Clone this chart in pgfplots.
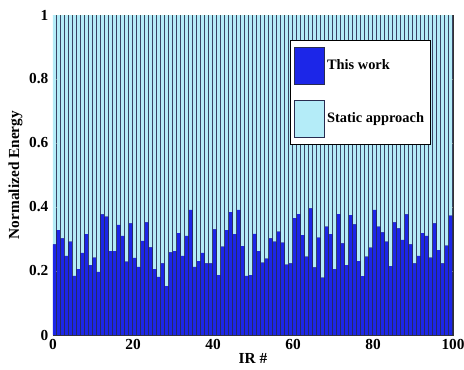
\documentclass[border=0pt]{standalone}
\usepackage{pgfplots}
\pgfplotsset{compat=1.18}
\usepackage{pgfplotstable}
\usepackage{fontspec}
\setmainfont{Liberation Serif}

\definecolor{thiswork}{RGB}{28,38,232}
\definecolor{staticap}{RGB}{180,236,248}
\definecolor{edge}{RGB}{40,44,80}

% normalized energy per IR: a = this work, b = static approach (stacked to 1)
\pgfplotstableread{
ir a b
1 0.283 0.717
2 0.328 0.672
3 0.302 0.698
4 0.247 0.753
5 0.292 0.708
6 0.185 0.815
7 0.206 0.794
8 0.257 0.743
9 0.315 0.685
10 0.218 0.782
11 0.242 0.758
12 0.197 0.803
13 0.377 0.623
14 0.370 0.630
15 0.262 0.738
16 0.262 0.738
17 0.344 0.656
18 0.310 0.690
19 0.229 0.771
20 0.349 0.651
21 0.241 0.759
22 0.213 0.787
23 0.294 0.706
24 0.352 0.648
25 0.274 0.726
26 0.206 0.794
27 0.182 0.818
28 0.224 0.776
29 0.153 0.847
30 0.258 0.742
31 0.262 0.738
32 0.318 0.682
33 0.247 0.753
34 0.310 0.690
35 0.391 0.609
36 0.213 0.787
37 0.231 0.769
38 0.257 0.743
39 0.224 0.776
40 0.224 0.776
41 0.330 0.670
42 0.187 0.813
43 0.276 0.724
44 0.328 0.672
45 0.384 0.616
46 0.315 0.685
47 0.391 0.609
48 0.278 0.722
49 0.185 0.815
50 0.187 0.813
51 0.316 0.684
52 0.262 0.738
53 0.226 0.774
54 0.239 0.761
55 0.302 0.698
56 0.292 0.708
57 0.323 0.677
58 0.289 0.711
59 0.220 0.780
60 0.224 0.776
61 0.365 0.635
62 0.378 0.622
63 0.312 0.688
64 0.245 0.755
65 0.396 0.604
66 0.211 0.789
67 0.304 0.696
68 0.179 0.821
69 0.339 0.661
70 0.315 0.685
71 0.206 0.794
72 0.378 0.622
73 0.286 0.714
74 0.218 0.782
75 0.375 0.625
76 0.346 0.654
77 0.231 0.769
78 0.184 0.816
79 0.245 0.755
80 0.273 0.727
81 0.391 0.609
82 0.339 0.661
83 0.321 0.679
84 0.292 0.708
85 0.215 0.785
86 0.352 0.648
87 0.333 0.667
88 0.297 0.703
89 0.377 0.623
90 0.283 0.717
91 0.224 0.776
92 0.247 0.753
93 0.318 0.682
94 0.310 0.690
95 0.242 0.758
96 0.349 0.651
97 0.265 0.735
98 0.224 0.776
99 0.279 0.721
100 0.373 0.627
}\energy

\begin{document}
\begin{tikzpicture}
\begin{axis}[
	scale only axis,
	width=300pt, height=240pt,
	axis background/.style={fill=edge},
	ybar stacked, bar width=0.75,
	xmin=0, xmax=100,
	ymin=0, ymax=1,
	xtick={0,20,...,100},
	ytick={0,0.2,...,1},
	xticklabel={\pgfmathprintnumber[assume math mode=true]{\tick}},
	yticklabel={\pgfmathprintnumber[assume math mode=true]{\tick}},
	tick align=inside,
	major tick length=3pt,
	ticklabel style={font=\fontsize{11.5}{11.5}\selectfont\bfseries},
	xlabel={IR \#},
	ylabel={Normalized Energy},
	label style={font=\fontsize{11.5}{11.5}\selectfont\bfseries},
	xlabel style={yshift=4pt},
	ylabel style={yshift=-2pt},
	axis line style={black!80},
	legend style={at={(0.945,0.922)}, anchor=north east,
		draw=black, line width=0.5pt,
		font=\fontsize{10.8}{10.8}\selectfont\bfseries,
		inner xsep=3pt, inner ysep=5pt, row sep=11pt,
		cells={anchor=west}},
	legend image code/.code={\draw[#1, draw=edge, line width=0.5pt] (0pt,-14pt) rectangle (22pt,14pt);},
]
\addplot[fill=thiswork, draw=none] table[x expr=\thisrow{ir}-0.625, y=a] {\energy};
\addplot[fill=staticap, draw=none] table[x expr=\thisrow{ir}-0.625, y=b] {\energy};
\legend{This work, Static approach\hspace{8pt}}
\end{axis}
\pgfresetboundingbox
\path[use as bounding box] ([xshift=-39.75pt,yshift=-25.5pt]current axis.south west)
	rectangle ([xshift=8.25pt,yshift=11.25pt]current axis.north east);
\end{tikzpicture}
\end{document}
